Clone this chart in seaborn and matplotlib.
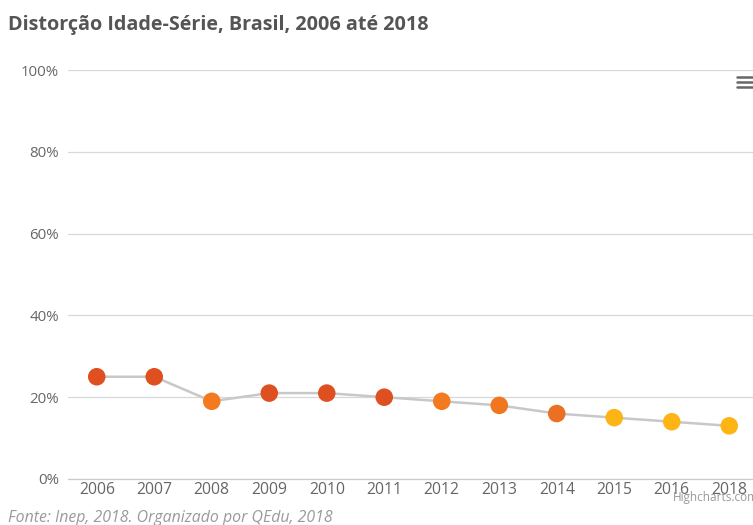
import matplotlib
matplotlib.use("Agg")
import matplotlib.pyplot as plt
import seaborn as sns
import pandas as pd
from matplotlib.lines import Line2D
from matplotlib.ticker import FixedLocator

years = ["2006", "2007", "2008", "2009", "2010", "2011", "2012", "2013", "2014", "2015", "2016", "2018"]
values = [25, 25, 19, 21, 21, 20, 19, 18, 16, 15, 14, 13]
point_colors = ["#df5020", "#df5020", "#f47a1f", "#df5020", "#df5020", "#df5020",
                "#f47a1f", "#f07620", "#ea7023", "#fdb515", "#fdb515", "#fdb515"]
yticks = [0, 20, 40, 60, 80, 100]
title = "Distorção Idade-Série, Brasil, 2006 até 2018"
source = "Fonte: Inep, 2018. Organizado por QEdu, 2018"

sns.set_theme(style="white")
plt.rcParams['font.family'] = ['Open Sans', 'DejaVu Sans']

df = pd.DataFrame({"pos": range(len(years)), "year": years, "value": values,
                   "color": [f"c{i}" for i in range(len(years))]})

fig = plt.figure(figsize=(7.53, 5.25), dpi=100)
ax = fig.add_axes([68/753, 1-479/525, 690/753, (479-70)/525])

sns.lineplot(data=df, x="pos", y="value", ax=ax, color="#c8c8c8", linewidth=1.8, zorder=2)
sns.scatterplot(data=df, x="pos", y="value", hue="color",
                palette=dict(zip(df["color"], point_colors)),
                s=160, edgecolor="none", ax=ax, legend=False, zorder=3)

ax.set_xlim(-0.5, len(years) - 0.5)
ax.set_ylim(0, 100)
ax.set_yticks(yticks)
ax.set_yticklabels([f"{v}%" for v in yticks])
ax.set_xticks(range(len(years)))
ax.set_xticklabels(years)
ax.xaxis.set_minor_locator(FixedLocator([i - 0.5 for i in range(len(years) + 1)]))
ax.tick_params(axis="x", which="major", length=0, pad=2.5, labelsize=11.3, labelcolor="#666666")
ax.tick_params(axis="x", which="minor", length=5, width=0.8, color="#cccccc", direction="out")
ax.tick_params(axis="y", length=0, pad=6.5, labelsize=10.8, labelcolor="#666666")
ax.grid(axis="y", color="#d8d8d8", linewidth=0.9)
ax.grid(axis="x", visible=False)
for s in ["top", "right", "left"]:
    ax.spines[s].set_visible(False)
ax.spines["bottom"].set_color("#cccccc")
ax.spines["bottom"].set_linewidth(0.9)
ax.set_xlabel("")
ax.set_ylabel("")

fig.text(8/753, 1-25/525, title, fontsize=14.2, fontweight="bold", color="#555555",
         ha="left", va="center")
fig.text(8/753, 1-518/525, source, fontsize=11.4, fontstyle="italic", color="#9a9a9a",
         ha="left", va="center")
fig.text(673/753, 1-498/525, "Highcharts.com", fontsize=8.5, color="#999999",
         ha="left", va="center")

# export menu icon
for yy in [77, 82, 87]:
    fig.add_artist(Line2D([737/753, 753/753], [1-yy/525, 1-yy/525],
                          transform=fig.transFigure, color="#666666", linewidth=1.8))

fig.savefig("out.png", dpi=100)
